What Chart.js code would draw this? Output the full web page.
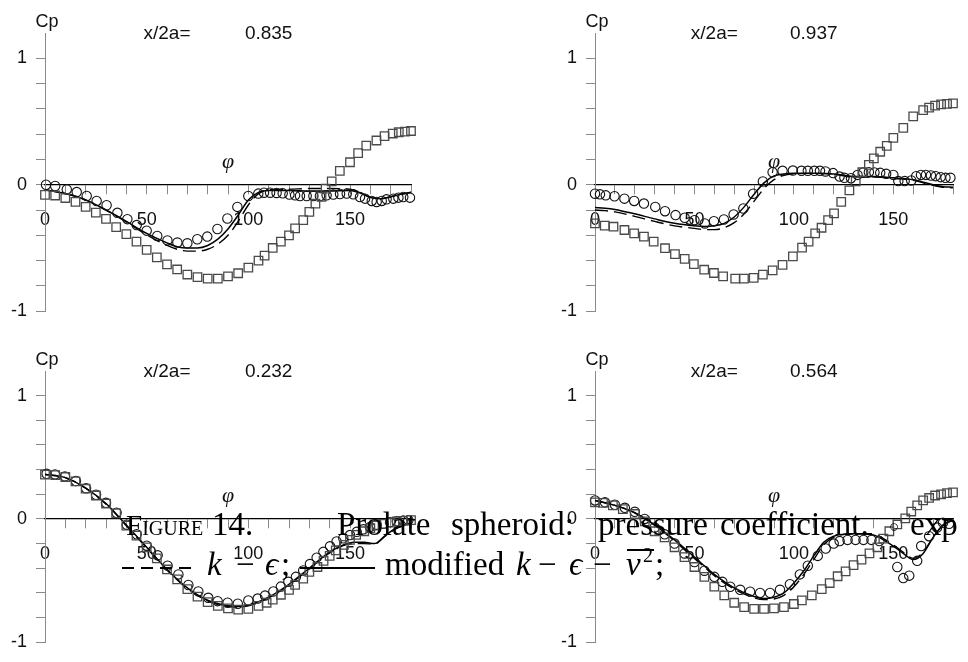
<!DOCTYPE html>
<html><head><meta charset="utf-8">
<script src="https://cdn.jsdelivr.net/npm/chart.js@4/dist/chart.umd.min.js"></script>
<style>
html,body{margin:0;padding:0;background:#fff;}
#wrap{position:relative;width:968px;height:662px;overflow:hidden;background:#fff;}
.pane{position:absolute;width:484px;height:331px;}
.cap{position:absolute;font-family:'Liberation Serif','Times New Roman',serif;font-size:33px;line-height:33px;color:#000;white-space:nowrap;z-index:5;}
.it{font-style:italic;}
.sc{font-variant:small-caps;}
.ln{position:absolute;height:1.5px;background:#000;z-index:5;}
.dash{position:absolute;height:1.5px;z-index:5;background:repeating-linear-gradient(90deg,#000 0 12px,transparent 12px 19px);}
</style></head><body>
<div id="wrap">
  <div class="pane" style="left:0;top:0"><canvas id="c0" width="484" height="331"></canvas></div>
  <div class="pane" style="left:484px;top:0"><canvas id="c1" width="484" height="331"></canvas></div>
  <div class="pane" style="left:0;top:331px"><canvas id="c2" width="484" height="331"></canvas></div>
  <div class="pane" style="left:484px;top:331px"><canvas id="c3" width="484" height="331"></canvas></div>

  <div class="cap sc" style="left:126px;top:511px;font-size:29px;line-height:29px">Figure</div>
  <div class="cap" style="left:212px;top:508px">14.</div>
  <div class="cap" style="left:337px;top:508px">Prolate</div>
  <div class="cap" style="left:451px;top:508px">spheroid:</div>
  <div class="cap" style="left:598px;top:508px">pressure</div>
  <div class="cap" style="left:720px;top:508px">coefficient.</div>
  <div class="cap" style="left:889px;top:518px;font-size:17px;line-height:17px">○</div>
  <div class="cap" style="left:910px;top:508px">exp</div>

  <div class="dash" style="left:122px;top:567px;width:72px"></div>
  <div class="cap it" style="left:207px;top:548px">k</div>
  <div class="cap" style="left:236px;top:548px">−</div>
  <div class="cap it" style="left:265px;top:548px">ϵ</div>
  <div class="cap" style="left:281px;top:548px">;</div>
  <div class="ln" style="left:300px;top:567px;width:75px"></div>
  <div class="cap" style="left:385px;top:548px">modified</div>
  <div class="cap it" style="left:516px;top:548px">k</div>
  <div class="cap" style="left:538px;top:548px">−</div>
  <div class="cap it" style="left:569px;top:548px">ϵ</div>
  <div class="cap" style="left:593px;top:548px">−</div>
  <div class="cap it" style="left:626px;top:548px">v</div>
  <div class="ln" style="left:627px;top:549px;width:27px"></div>
  <div class="cap" style="left:643px;top:545px;font-size:20px;line-height:20px">2</div>
  <div class="cap" style="left:655px;top:548px">;</div>
</div>
<script>
// ---------- data ----------
const stations = ['0.835', '0.937', '0.232', '0.564'];
const xTickVals = [0, 50, 100, 150];
const yTickVals = [-1, 0, 1];
const yTickText = ['-1', '0', '1'];

// panel A : x/2a = 0.835
const phiSqA = [0,5,10,15,20,25,30,35,40,45,50,55,60,65,70,75,80,85,90,95,100,105,108,112,116,120,123,127,130,133,136,138,141,145,150,154,158,163,167,171,174,177,180];
const cpSqA  = [-0.08,-0.085,-0.105,-0.135,-0.175,-0.22,-0.27,-0.335,-0.39,-0.45,-0.515,-0.575,-0.63,-0.67,-0.71,-0.73,-0.742,-0.742,-0.725,-0.70,-0.655,-0.60,-0.56,-0.50,-0.45,-0.40,-0.345,-0.28,-0.215,-0.15,-0.095,-0.03,0.026,0.11,0.178,0.25,0.31,0.35,0.385,0.405,0.415,0.42,0.425];
const phiCiA = [0.5,5,10.7,15.6,20.5,25.4,30.3,35.6,40.5,45.1,50,55.2,60.2,65.1,70,74.9,79.8,84.8,89.7,94.6,100,104.9,107.7,110.7,113.9,116.9,120.2,123,125.4,128.7,132,135.2,138.5,141.8,145.1,148.4,151.6,154.9,157.4,160.7,163.1,165.6,168,171.3,173.8,176.2,179.5];
const cpCiA  = [0,-0.01,-0.037,-0.058,-0.089,-0.128,-0.162,-0.222,-0.272,-0.319,-0.363,-0.405,-0.44,-0.457,-0.463,-0.431,-0.41,-0.35,-0.267,-0.175,-0.089,-0.07,-0.063,-0.063,-0.065,-0.068,-0.078,-0.084,-0.089,-0.089,-0.089,-0.089,-0.084,-0.078,-0.073,-0.07,-0.076,-0.097,-0.11,-0.128,-0.136,-0.128,-0.115,-0.11,-0.102,-0.097,-0.102];
const phiLnA = [0,10,20,30,40,50,60,65,70,75,80,85,90,95,100,105,110,120,130,140,150,155,160,165,170,175,180];
const kevA   = [-0.04,-0.07,-0.12,-0.2,-0.29,-0.385,-0.46,-0.49,-0.50,-0.50,-0.48,-0.43,-0.35,-0.24,-0.12,-0.06,-0.045,-0.045,-0.05,-0.05,-0.045,-0.065,-0.1,-0.11,-0.095,-0.075,-0.06];
const keA    = [-0.04,-0.07,-0.12,-0.2,-0.295,-0.395,-0.48,-0.51,-0.525,-0.525,-0.51,-0.47,-0.40,-0.29,-0.16,-0.07,-0.04,-0.035,-0.03,-0.03,-0.035,-0.06,-0.1,-0.11,-0.095,-0.075,-0.06];

// panel B : x/2a = 0.937
const phiSqB = [0,4.9,9.3,14.8,19.7,24.6,29.5,35.2,40.2,45.1,49.7,54.9,59.8,64.4,70.5,74.9,79.8,84.4,89.3,94.3,99.5,104.1,107.4,110.7,113.9,117.2,120.2,123.8,127.9,131.1,134.4,137.7,140.2,143.4,146.7,150,155,160,165,168,171,174,177,180];
const cpSqB  = [-0.306,-0.324,-0.332,-0.358,-0.384,-0.41,-0.45,-0.502,-0.549,-0.586,-0.627,-0.672,-0.698,-0.724,-0.742,-0.742,-0.737,-0.711,-0.677,-0.633,-0.567,-0.497,-0.45,-0.384,-0.34,-0.28,-0.227,-0.136,-0.044,0.026,0.099,0.157,0.209,0.261,0.308,0.37,0.45,0.54,0.59,0.61,0.625,0.635,0.64,0.643];
const phiCiB = [0,2.5,5.4,9.8,14.8,19.7,24.6,30.3,35.2,40.5,45.1,50,55.2,59.8,64.8,69.7,74.6,79.5,84.4,89.3,94.3,99.5,103.8,107,110.3,113.1,115.9,119.7,123,125.4,128.7,132,134.9,137.7,140.5,143.4,146.4,150,152.5,155.7,159,161.5,163.9,166.4,168.9,171.3,173.8,176.2,178.7];
const cpCiB  = [-0.071,-0.076,-0.084,-0.091,-0.11,-0.128,-0.149,-0.175,-0.209,-0.24,-0.261,-0.28,-0.306,-0.288,-0.275,-0.235,-0.188,-0.071,0.026,0.099,0.11,0.112,0.11,0.11,0.11,0.11,0.105,0.092,0.065,0.055,0.052,0.078,0.097,0.099,0.097,0.094,0.086,0.078,0.029,0.029,0.034,0.068,0.078,0.078,0.073,0.068,0.06,0.055,0.055];
const phiLnB = [0,5,10,20,30,40,50,55,60,65,70,75,80,85,90,95,100,110,120,125,130,140,150,160,165,170,175,180];
const kevB   = [-0.18,-0.185,-0.195,-0.23,-0.27,-0.305,-0.325,-0.33,-0.325,-0.305,-0.255,-0.175,-0.075,0.015,0.07,0.085,0.09,0.09,0.085,0.075,0.065,0.065,0.055,0.04,0.02,0.0,-0.015,-0.02];
const keB    = [-0.2,-0.205,-0.215,-0.25,-0.29,-0.325,-0.345,-0.355,-0.355,-0.34,-0.3,-0.23,-0.13,-0.03,0.04,0.075,0.085,0.09,0.085,0.07,0.06,0.06,0.05,0.035,0.015,-0.005,-0.02,-0.025];

// panel C : x/2a = 0.232
const phiSqC = [0,5,10,15,20,25,30,35,40,45,50,55,60,65,70,75,80,85,90,95,100,105,109,112,116,120,123,127,130,134,137,140,143,147,150,153,157,160,163,166,170,173,176,180];
const cpSqC  = [0.36,0.355,0.34,0.305,0.245,0.19,0.125,0.045,-0.055,-0.135,-0.23,-0.32,-0.41,-0.49,-0.57,-0.63,-0.675,-0.705,-0.725,-0.735,-0.73,-0.705,-0.68,-0.655,-0.615,-0.575,-0.535,-0.485,-0.43,-0.39,-0.34,-0.3,-0.255,-0.21,-0.17,-0.13,-0.1,-0.075,-0.055,-0.04,-0.03,-0.02,-0.015,-0.01];
const phiCiC = [0.8,4.9,9.8,15.2,20.2,25.1,30,35.2,40.2,45.1,50,55.4,60.3,65.6,70.5,75.4,80.3,84.9,89.8,94.8,100,104.6,108.2,112.3,116,119.7,123.4,127,130.3,133.6,136.9,140.2,143.4,146.7,150,153.3,156.6,159.8,163.1,166.4,169.7,173,176.2,178.7];
const cpCiC  = [0.366,0.361,0.345,0.308,0.248,0.196,0.131,0.05,-0.047,-0.125,-0.217,-0.295,-0.379,-0.45,-0.536,-0.588,-0.64,-0.667,-0.68,-0.688,-0.661,-0.646,-0.622,-0.588,-0.549,-0.51,-0.47,-0.418,-0.366,-0.314,-0.267,-0.222,-0.183,-0.157,-0.131,-0.105,-0.084,-0.065,-0.047,-0.039,-0.026,-0.018,-0.013,-0.01];
const phiLnC = [0,10,20,30,40,50,60,70,80,90,95,100,110,120,130,140,147,152,157,162,167,172,180];
const kevC   = [0.36,0.335,0.25,0.125,-0.05,-0.23,-0.41,-0.56,-0.66,-0.705,-0.71,-0.7,-0.635,-0.53,-0.4,-0.27,-0.21,-0.19,-0.19,-0.2,-0.14,-0.08,-0.03];
const keC    = [0.36,0.335,0.25,0.12,-0.055,-0.235,-0.415,-0.565,-0.665,-0.71,-0.715,-0.705,-0.64,-0.535,-0.405,-0.275,-0.215,-0.2,-0.2,-0.205,-0.145,-0.085,-0.035];

// panel D : x/2a = 0.564
const phiSqD = [0,4,9,14,20,25,30,35,40,45,50,55,60,65,70,75,80,85,90,95,100,104,109,114,118,122,126,130,134,138,142,145,148,152,156,159,162,165,168,171,174,177,180];
const cpSqD  = [0.135,0.13,0.11,0.08,0.04,-0.02,-0.1,-0.15,-0.23,-0.31,-0.39,-0.47,-0.55,-0.62,-0.68,-0.715,-0.73,-0.73,-0.725,-0.715,-0.69,-0.66,-0.62,-0.57,-0.52,-0.465,-0.425,-0.375,-0.33,-0.28,-0.23,-0.16,-0.1,-0.045,0.005,0.06,0.11,0.15,0.17,0.19,0.2,0.21,0.215];
const phiCiD = [0,5,10,15,20,25,30,35,40,45,50,55,60,64,68,73,78,83,88,93,98,103,107,112,116,120,123,127,131,135,139,143,152,155,158,162,164,168,172,175,178];
const cpCiD  = [0.15,0.135,0.115,0.09,0.058,0.0,-0.07,-0.125,-0.2,-0.28,-0.35,-0.42,-0.47,-0.51,-0.55,-0.575,-0.59,-0.6,-0.6,-0.575,-0.53,-0.45,-0.38,-0.3,-0.24,-0.2,-0.18,-0.17,-0.17,-0.17,-0.17,-0.18,-0.39,-0.48,-0.46,-0.34,-0.22,-0.14,-0.07,-0.03,-0.04];
const phiLnD = [0,10,20,30,40,50,60,70,80,85,90,95,100,105,110,115,120,130,140,145,150,155,160,165,170,175,180];
const kevD   = [0.15,0.11,0.05,-0.05,-0.17,-0.31,-0.45,-0.56,-0.63,-0.645,-0.635,-0.6,-0.52,-0.42,-0.3,-0.19,-0.14,-0.12,-0.13,-0.17,-0.22,-0.28,-0.33,-0.28,-0.15,-0.05,-0.01];
const keD    = [0.15,0.11,0.05,-0.05,-0.18,-0.32,-0.46,-0.57,-0.64,-0.655,-0.65,-0.62,-0.55,-0.45,-0.33,-0.21,-0.15,-0.12,-0.12,-0.16,-0.21,-0.27,-0.32,-0.27,-0.15,-0.05,-0.01];

// ---------- layout ----------
const Y_AXIS_W = 40;
const pads = [
  {left:45 - Y_AXIS_W, right:73, top:33, bottom:18},
  {left:111 - Y_AXIS_W, right:7, top:33, bottom:18},
  {left:45 - Y_AXIS_W, right:73, top:40, bottom:10},
  {left:111 - Y_AXIS_W, right:7, top:40, bottom:10}
];
const xy = (xs, ys) => xs.map((x, i) => ({x, y: ys[i]}));
const SANS = '"Liberation Sans", Arial, sans-serif';

const panelText = {
  id: 'panelText',
  afterDraw(chart, args, opts) {
    const {ctx, chartArea} = chart;
    const xs = chart.scales.x, ys = chart.scales.y;
    ctx.save();
    ctx.fillStyle = '#111';
    ctx.textAlign = 'center';
    ctx.textBaseline = 'middle';
    ctx.font = '18px ' + SANS;
    ctx.fillText('Cp', xs.getPixelForValue(0) + 2, chartArea.top - 11);
    ctx.font = '19px ' + SANS;
    ctx.fillText('x/2a=', xs.getPixelForValue(60), chartArea.top + 1);
    ctx.fillText(opts.station, xs.getPixelForValue(110), chartArea.top + 1);
    ctx.font = 'italic 22px "Liberation Serif", serif';
    ctx.fillText('φ', xs.getPixelForValue(90), ys.getPixelForValue(0) - 23);
    ctx.restore();
  }
};

function makePanel(i, phiSq, cpSq, phiCi, cpCi, phiLn, ke, kev) {
  new Chart(document.getElementById('c' + i), {
    type: 'scatter',
    data: {
      datasets: [
        {label: 'squares', data: xy(phiSq, cpSq), pointStyle: 'rect', pointRadius: 6,
         borderColor: '#4a4a4a', backgroundColor: 'rgba(0,0,0,0)', borderWidth: 1.3, showLine: false, clip: false},
        {label: 'exp', data: xy(phiCi, cpCi), pointStyle: 'circle', pointRadius: 4.7,
         borderColor: '#111', backgroundColor: 'rgba(0,0,0,0)', borderWidth: 1.1, showLine: false, clip: false},
        {label: 'k - epsilon', data: xy(phiLn, ke), showLine: true, pointRadius: 0, borderColor: '#000',
         borderWidth: 1.4, borderDash: [13, 6], tension: 0.4, cubicInterpolationMode: 'monotone', clip: false},
        {label: 'modified k - epsilon - v2', data: xy(phiLn, kev), showLine: true, pointRadius: 0, borderColor: '#000',
         borderWidth: 1.5, tension: 0.4, cubicInterpolationMode: 'monotone', clip: false}
      ]
    },
    options: {
      responsive: false, animation: false, events: [],
      layout: {padding: pads[i]},
      plugins: {legend: {display: false}, tooltip: {enabled: false}, panelText: {station: stations[i]}},
      scales: {
        x: {
          type: 'linear', min: 0, max: 180, position: {y: 0},
          afterFit(s) { s.height = 0; },
          grid: {drawOnChartArea: false, drawTicks: true, tickLength: 9, color: '#8a8a8a', lineWidth: 1},
          border: {display: true, color: '#000', width: 1.3},
          ticks: {stepSize: 10, autoSkip: false, maxRotation: 0, padding: 15, color: '#111',
                  font: {family: SANS, size: 18},
                  callback: v => xTickVals.includes(v) ? String(v) : ''}
        },
        y: {
          type: 'linear', min: -1, max: 1.2, position: 'left',
          afterFit(s) { s.width = Y_AXIS_W; },
          afterBuildTicks(s) { s.ticks = s.ticks.filter(t => t.value <= 1.0001); },
          grid: {drawOnChartArea: false, drawTicks: true, tickLength: 9, color: '#8a8a8a', lineWidth: 1},
          border: {display: true, color: '#8a8a8a', width: 1},
          ticks: {stepSize: 0.2, autoSkip: false, padding: 9, color: '#111',
                  font: {family: SANS, size: 18},
                  callback: v => {
                    const k = yTickVals.findIndex(t => Math.abs(t - v) < 1e-6);
                    return k >= 0 ? yTickText[k] : '';
                  }}
        }
      }
    },
    plugins: [panelText]
  });
}

makePanel(0, phiSqA, cpSqA, phiCiA, cpCiA, phiLnA, keA, kevA);
makePanel(1, phiSqB, cpSqB, phiCiB, cpCiB, phiLnB, keB, kevB);
makePanel(2, phiSqC, cpSqC, phiCiC, cpCiC, phiLnC, keC, kevC);
makePanel(3, phiSqD, cpSqD, phiCiD, cpCiD, phiLnD, keD, kevD);
</script>
</body></html>
